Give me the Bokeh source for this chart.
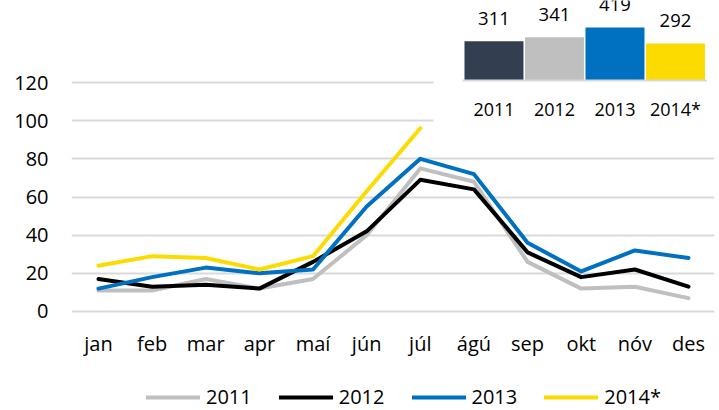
from bokeh.plotting import figure
from bokeh.models import (Range1d, FixedTicker, Legend, LegendItem, ColumnDataSource)
from bokeh.embed import file_html
from bokeh.resources import INLINE
from bokeh.core.properties import value

# ---- data ----
months = ["jan", "feb", "mar", "apr", "maí", "jún", "júl", "ágú", "sep", "okt", "nóv", "des"]
s2011 = [11, 11, 17, 12, 17, 40, 75, 68, 26, 12, 13, 7]
s2012 = [17, 13, 14, 12, 26, 42, 69, 64, 31, 18, 22, 13]
s2013 = [12, 18, 23, 20, 22, 55, 80, 72, 36, 21, 32, 28]
s2014 = [24, 29, 28, 22, 29, 63, 96]
years = ["2011", "2012", "2013", "2014*"]
totals = [311, 341, 419, 292]
y_ticks = [0, 20, 40, 60, 80, 100, 120]

line_colors = ["#bfbfbf", "#000000", "#0070c0", "#fcdc00"]
bar_colors = ["#333f50", "#bfbfbf", "#0070c0", "#fcdc00"]
FONT = "Open Sans"

month_idx = list(range(len(months)))

p = figure(width=719, height=410, output_backend="svg", toolbar_location=None,
           x_range=Range1d(-0.503, 11.485),
           y_range=Range1d(-51.9, 163.0),
           x_axis_location=None,
           min_border_left=71, min_border_right=5, min_border_top=0, min_border_bottom=0)
p.outline_line_color = None
p.background_fill_color = "white"
p.border_fill_color = "white"

# y axis
p.yaxis.ticker = FixedTicker(ticks=y_ticks)
ax = p.yaxis[0]
ax.axis_line_color = None
ax.major_tick_line_color = None
ax.minor_tick_line_color = None
ax.major_tick_in = 0
ax.major_tick_out = 0
ax.major_label_text_font = FONT
ax.major_label_text_font_size = "20px"
ax.major_label_text_color = "#000000"
ax.major_label_standoff = 23
p.xgrid.grid_line_color = None
p.ygrid.grid_line_color = "#d9d9d9"
p.ygrid.grid_line_width = 2

# month (category) labels along the bottom
msrc = ColumnDataSource(dict(x=month_idx, y=[0] * len(months), m=months))
p.text(x="x", y="y", text="m", source=msrc, text_align="center",
       text_baseline="middle", y_offset=32,
       text_font=value(FONT), text_font_size="20px", text_color="#000000")

# inset ranges for the totals bar chart
p.extra_x_ranges = {"bx": Range1d(-6.983, 3.645)}
p.extra_y_ranges = {"by": Range1d(-2608.7, 632.4)}

n = len(years)
bar_src = ColumnDataSource(dict(
    i=list(range(n)), total=totals, year=years,
    label=[str(t) for t in totals], color=bar_colors, zero=[0] * n))

# white background box of the inset (hides gridlines behind it)
p.quad(left=[-1.0], right=[n + 1], bottom=[-435], top=[2000],
       fill_color="white", line_color=None, x_range_name="bx", y_range_name="by")

# lines
series = [("2011", s2011), ("2012", s2012), ("2013", s2013), ("2014*", s2014)]
items = []
for (name, vals), col in zip(series, line_colors):
    r = p.line(x=month_idx[:len(vals)], y=vals, line_color=col, line_width=4,
               line_join="round", line_cap="round")
    items.append(LegendItem(label=name, renderers=[r]))

# bars
p.vbar(x="i", top="total", bottom="zero", width=0.975, source=bar_src,
       fill_color="color", line_color=None, x_range_name="bx", y_range_name="by")
p.segment(x0=[-0.52], y0=[0], x1=[n - 0.48], y1=[0], line_color="#d9d9d9",
          line_width=2, x_range_name="bx", y_range_name="by")
p.text(x="i", y="total", text="label", source=bar_src, x_range_name="bx", y_range_name="by",
       text_align="center", text_baseline="middle", y_offset=-23,
       text_font=value(FONT), text_font_size="18.5px", text_color="#000000")
p.text(x="i", y="zero", text="year", source=bar_src, x_range_name="bx", y_range_name="by",
       text_align="center", text_baseline="middle", y_offset=29,
       text_font=value(FONT), text_font_size="18px", text_color="#000000")

legend = Legend(items=items, orientation="horizontal", location=(75, 0),
                glyph_width=54, glyph_height=20, label_standoff=6, spacing=27,
                padding=0, margin=0, border_line_color=None, background_fill_alpha=0,
                label_text_font=FONT, label_text_font_size="20px", label_text_color="#000000")
p.add_layout(legend, "center")

open("out.html", "w").write(file_html(p, INLINE))
